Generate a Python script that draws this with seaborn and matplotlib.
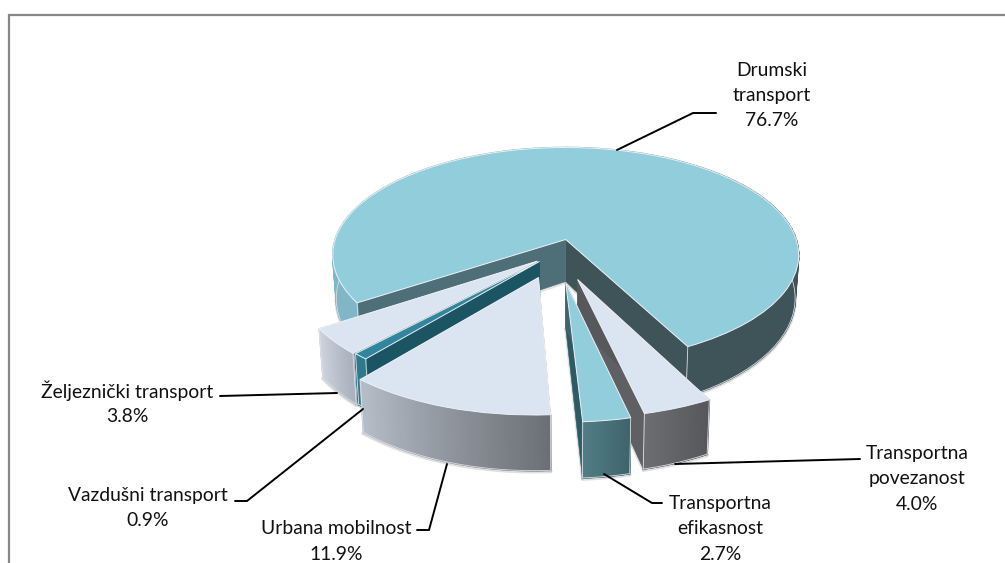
import numpy as np
import matplotlib
matplotlib.use("Agg")
import matplotlib.pyplot as plt
from matplotlib.collections import PolyCollection
from matplotlib.path import Path
from matplotlib.patches import Polygon
from matplotlib.transforms import Transform
import seaborn as sns

# ---- data ----
categories = ["Drumski\ntransport", "Željeznički transport", "Vazdušni transport",
              "Urbana mobilnost", "Transportna\nefikasnost", "Transportna\npovezanost"]
shares = [76.7, 3.8, 0.9, 11.9, 2.7, 4.0]
share_labels = ["76.7%", "3.8%", "0.9%", "11.9%", "2.7%", "4.0%"]

# ---- styling ----
top_colors = ["#92CDDC", "#DBE5F1", "#31859C", "#DBE5F1", "#92CDDC", "#DBE5F1"]
outer_wall = [["#3E5459", "#3E5459", "#80B6C6", "#80B6C6", "#80B6C6"],
              ["#D0D6DF", "#A9B1BE"],
              ["#2C7A8C", "#2C7A8C"],
              ["#B6BEC9", "#6C7076"],
              ["#527E87", "#3F646C"],
              ["#6C6E72", "#57585C"]]
side_wall = [("#3E5459", "#4F6F78"), ("#A9B1BE", "#A9B1BE"), ("#1B5563", "#1B5563"),
             ("#8A8F96", "#6C7076"), ("#2E5A64", "#3F646C"), ("#5F6064", "#57585C")]
# drawing order back to front, and the sideways pull of each slice in the pie plane
paint_rank = [0, 3, 4, 5, 2, 1]
pull_x = [0.0, -0.120, -0.110, -0.112, 0.0, 0.049]
pull_y = [0.0, -0.200, -0.202, -0.343, -0.386, -0.360]

CX, CY, BX, AY, K = 565.7, 239.5, 230.5, 105.3, 0.1446
DEPTH = 42.0


class PlaneToPage(Transform):
    """Perspective view of the pie plane, in page units."""
    input_dims = output_dims = 2
    is_separable = False
    has_inverse = False

    def transform_non_affine(self, values):
        v = np.asarray(values, dtype=float)
        w = 1 + K * v[:, 1]
        return np.column_stack([CX + BX * v[:, 0] / w, CY - AY * v[:, 1] / w])

    def transform_path_non_affine(self, path):
        return Path(self.transform_non_affine(path.vertices), path.codes)


proj = PlaneToPage()


def lower(px, py):
    """Bottom rim of the extruded pie below plane points."""
    pts = proj.transform_non_affine(np.column_stack([px, py]))
    w = 1 + K * np.asarray(py)
    return np.column_stack([CX + 0.985 * (pts[:, 0] - CX), pts[:, 1] + DEPTH / w ** 1.3])


def upper(px, py):
    return proj.transform_non_affine(np.column_stack([px, py]))


sns.set_theme(style="white")
plt.rcParams["font.family"] = ["Lato", "DejaVu Sans"]

fig = plt.figure(figsize=(10.05, 5.63), dpi=100, facecolor="white")
ax = fig.add_axes([0, 0, 1, 1])

wedges, _ = ax.pie(shares, startangle=-62.5, counterclock=True, colors=top_colors,
                   wedgeprops=dict(edgecolor="#EEF1F5", linewidth=0.7))
ax.set_aspect("auto")
ax.set_xlim(0, 1005)
ax.set_ylim(563, 0)
ax.set_axis_off()

for i, w in enumerate(wedges):
    z = 10 * (paint_rank[i] + 1)
    w.set_center((pull_x[i], pull_y[i]))
    w.set_transform(proj + ax.transData)
    w.set_zorder(z + 3)

    th = np.radians(np.linspace(w.theta1, w.theta2, 90))
    px, py = pull_x[i] + np.cos(th), pull_y[i] + np.sin(th)
    up, lo = upper(px, py), lower(px, py)

    # outer wall with a gradient along the rim
    quads = [[up[j], up[j + 1], lo[j + 1], lo[j]] for j in range(len(th) - 1)]
    cols = sns.blend_palette(outer_wall[i], len(quads))
    ax.add_collection(PolyCollection(quads, facecolors=cols, edgecolors=cols,
                                     linewidths=1.2, zorder=z + 2))
    # thin light rim at the bottom and soft shadow beneath it
    ax.plot(lo[:, 0], lo[:, 1] + 1.2, color="#A8A8A8", lw=2.4, alpha=0.35,
            zorder=z, solid_capstyle="round")
    ax.plot(lo[:, 0], lo[:, 1], color="#D8DBE0", lw=0.6, zorder=z + 2.5)
    for e in (0, -1):
        ax.plot([up[e, 0], lo[e, 0]], [up[e, 1], lo[e, 1]], color="#DDE0E5",
                lw=0.6, zorder=z + 2.5)

    # radial cut faces
    ax0 = np.array([pull_x[i]]), np.array([pull_y[i]])
    a_up, a_lo = upper(*ax0)[0], lower(*ax0)[0]
    for e, col in zip((0, -1), side_wall[i]):
        ax.add_patch(Polygon([a_up, up[e], lo[e], a_lo], closed=True, facecolor=col,
                             edgecolor=col, linewidth=0.4, zorder=z + 1))
    ax.plot([a_lo[0], lo[0, 0]], [a_lo[1] + 1, lo[0, 1] + 1], color="#A8A8A8", lw=2.2,
            alpha=0.3, zorder=z)
    ax.plot([a_lo[0], lo[-1, 0]], [a_lo[1] + 1, lo[-1, 1] + 1], color="#A8A8A8", lw=2.2,
            alpha=0.3, zorder=z)

# chart frame, cut off by the page at right and bottom
ax.plot([9, 9, 1006], [564, 14.5, 14.5], color="#868686", lw=1.6, zorder=1,
        solid_joinstyle="miter")

# labels: centre x and first line middle y for each category
label_x = [772, 127, 148, 336, 720, 917]
label_y = [70, 391, 495, 529, 503, 453]
line_step = 25.5
for name, pct, x, y in zip(categories, share_labels, label_x, label_y):
    for k, line in enumerate(name.split("\n") + [pct]):
        ax.text(x, y + k * line_step, line, ha="center", va="center",
                fontsize=13.85, color="#111111", zorder=200)

leaders = [([617, 693, 716], [150, 113, 113]),
           ([220, 337], [396, 393]),
           ([235, 247, 363], [501, 501, 409]),
           ([417, 429, 447], [530, 530, 464]),
           ([604, 652, 662], [474, 503, 503]),
           ([675, 860], [464, 459])]
for lx, ly in leaders:
    ax.plot(lx, ly, color="black", lw=1.4, zorder=150, solid_joinstyle="miter")

fig.savefig("out.png", dpi=100)
